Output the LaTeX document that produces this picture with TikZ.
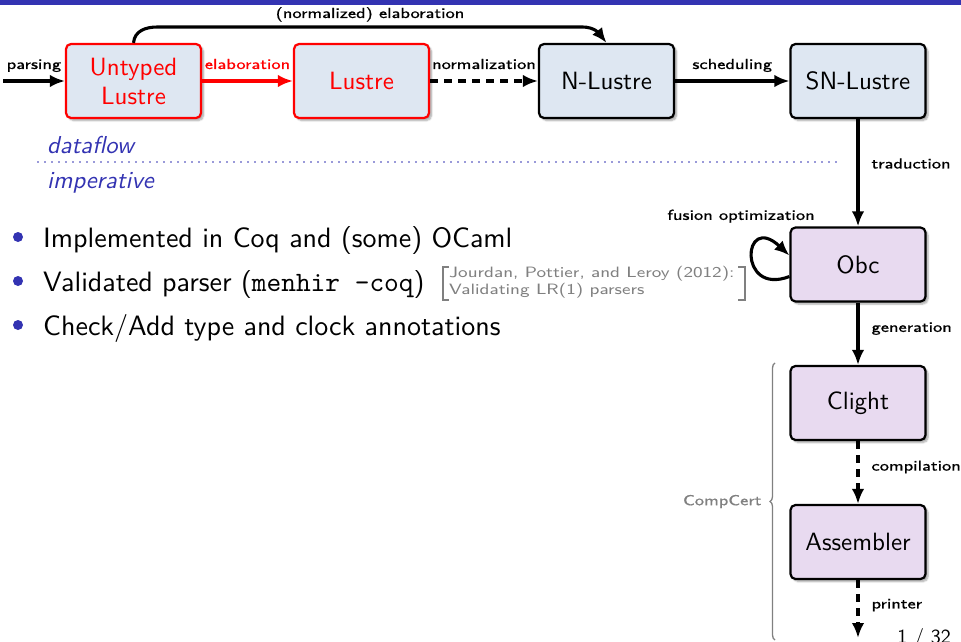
\documentclass[tikz,border=0pt]{standalone}
\usepackage{fontspec}
\newfontfamily\boxfont{lmsans10-regular.otf}
\newfontfamily\labfont{lmsans8-regular.otf}[FakeStretch=1.2,FakeBold=0.6]
\newfontfamily\citefont{lmsans8-regular.otf}[FakeStretch=1.2]
\newfontfamily\itfont{lmsans10-oblique.otf}
\newfontfamily\mfont{lmmono10-regular.otf}
\usetikzlibrary{arrows.meta,shadows.blur,decorations.pathreplacing,calc}
\definecolor{bblue}{RGB}{51,51,178}
\definecolor{boxblue}{RGB}{222,231,242}
\definecolor{boxpurple}{RGB}{232,218,240}
\definecolor{citegray}{RGB}{128,128,128}
\begin{document}
\begin{tikzpicture}[x=1pt,y=-1pt,
  stagebox/.style={draw=black, line width=2.2pt, rounded corners=5pt,
    minimum width=135pt, minimum height=74pt, inner sep=0pt, align=center,
    font=\boxfont\fontsize{25}{29}\selectfont,
    blur shadow={shadow xshift=2.5pt, shadow yshift=-2.5pt, shadow blur steps=6, shadow opacity=35}},
  bluebox/.style={stagebox, fill=boxblue},
  purplebox/.style={stagebox, fill=boxpurple},
  redbox/.style={bluebox, draw=red, text=red},
  flow/.style={line width=3.1pt, -{Latex[length=15pt,width=12.5pt]}},
  dflow/.style={flow, dash pattern=on 8pt off 6pt},
  lab/.style={font=\labfont\fontsize{14.5}{17}\selectfont, inner sep=0pt},
  cite/.style={font=\citefont\fontsize{15}{17}\selectfont, inner sep=0pt, text=citegray},
  btext/.style={font=\boxfont\fontsize{28}{32}\selectfont, inner sep=0pt, anchor=base west},
  bul/.style={fill=bblue, draw=none},
]
\useasboundingbox (0,0) rectangle (961,642);
\clip (0,0) rectangle (961,642);
\fill[bblue] (0,0) rectangle (961,4.7);

% stage boxes
\node[redbox] (ul) at (133.5,81) {Untyped\\Lustre};
\node[redbox] (lu) at (361.5,81) {Lustre};
\node[bluebox] (nl) at (606.5,81) {N-Lustre};
\node[bluebox] (snl) at (858,81) {SN-Lustre};
\node[purplebox] (obc) at (858,264.5) {Obc};
\node[purplebox] (cl) at (858,403) {Clight};
\node[purplebox] (asm) at (858,542) {Assembler};

% horizontal flow
\coordinate (pin) at (3,81);
\draw[flow] (pin) -- node[lab, anchor=base, yshift=12pt] {parsing} (ul);
\draw[flow, red] (ul) -- node[lab, anchor=base, yshift=12pt, text=red] {elaboration} (lu);
\draw[dflow] (lu) -- node[lab, anchor=base, yshift=12pt] {normalization} (nl);
\draw[flow] (nl) -- node[lab, anchor=base, yshift=12pt] {scheduling} (snl);

\coordinate (top) at (0,27);
\draw[flow] (ul.north) .. controls +(1,-12) and +(-12,0) .. ($(ul.north |- top)+(24,0)$)
  -- node[lab, anchor=base, yshift=9pt] {(normalized) elaboration} ($(nl.north |- top)+(-24,0)$)
  .. controls +(12,0) and +(-7,-9) .. (nl.north);

% vertical flow
\draw[flow] (snl) -- node[lab, anchor=base west, pos=0.46, xshift=12pt] {traduction} (obc);
\draw[flow] (obc) -- node[lab, anchor=base west, pos=0.47, xshift=12pt] {generation} (cl);
\draw[dflow] (cl) -- node[lab, anchor=base west, pos=0.47, xshift=12pt] {compilation} (asm);
\coordinate (pend) at (858,638);
\draw[dflow] (asm) -- node[lab, anchor=base west, pos=0.49, xshift=12pt] {printer} (pend);

% fusion loop
\draw[flow] ($(obc.west)+(0,12)$) .. controls +(-52,20) and +(-47,-44) .. ($(obc.west)+(0,-9)$);
\node[lab, anchor=base east] (fus) at ($(obc.north west)+(25.5,-6.5)$) {fusion optimization};

% dataflow / imperative
\draw[bblue, line width=1.8pt, line cap=round, dash pattern=on 0pt off 7pt] (38,162) -- (842,162);
\node[font=\itfont\fontsize{24.5}{29}\selectfont, text=bblue, inner sep=0pt, anchor=base west] (df) at (47,153) {dataflow};
\node[font=\itfont\fontsize{24.5}{29}\selectfont, text=bblue, inner sep=0pt, anchor=base west] (imp) at (47,188) {imperative};

% bullets
\fill[bul] (18,237) circle (5pt);
\fill[bul] (18,281) circle (5pt);
\fill[bul] (18,325) circle (5pt);
\node[btext] (b1) at (43,247) {Implemented in Coq and (some) OCaml};
\node[btext] (b2) at (43,291) {Validated parser ({\mfont menhir -coq})};
\node[btext] (b3) at (43,335) {Check/Add type and clock annotations};

% citation
\node[cite, anchor=base west] (c1) at (449,277.5) {Jourdan, Pottier, and Leroy (2012):};
\node[cite, anchor=base west] (c2) at (449,294) {Validating LR(1) parsers};
\draw[citegray, line width=1.3pt] (449,267) -- (443,267) -- (443,300) -- (449,300);
\draw[citegray, line width=1.3pt] (738,267) -- (745,267) -- (745,300) -- (738,300);

% CompCert brace
\draw[citegray, line width=1.3pt, decorate, decoration={brace, amplitude=5pt}]
  (775,640) -- (775,363) node[midway, lab, text=citegray, anchor=east, xshift=-13pt] {CompCert};

% page number
\node[font=\boxfont\fontsize{20}{24}\selectfont, inner sep=0pt, anchor=north east] (pg) at (951,628) {1 / 32};
\end{tikzpicture}
\end{document}
